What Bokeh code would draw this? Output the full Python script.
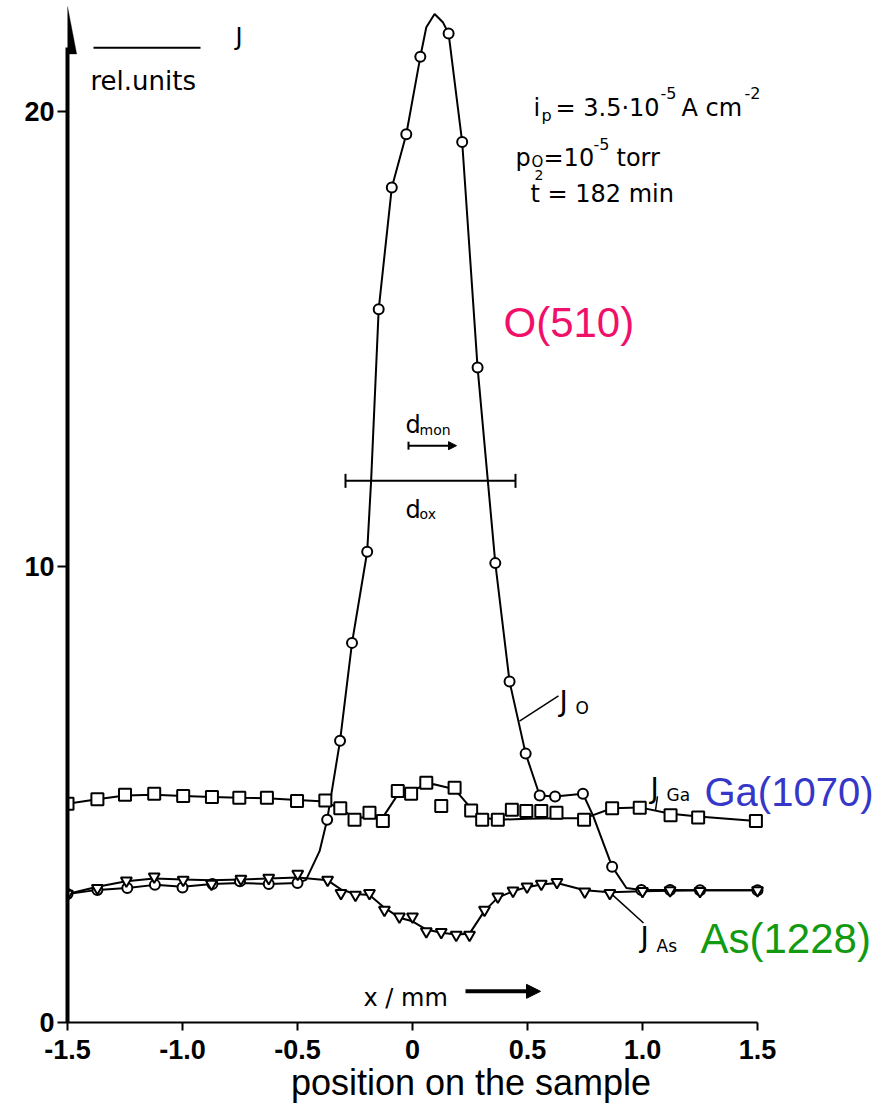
from bokeh.plotting import figure
from bokeh.models import (Range1d, FixedTicker, Label, Arrow, NormalHead, TeeHead,
                          PolyAnnotation)
from bokeh.embed import file_html
from bokeh.resources import INLINE

# ---------------- data ----------------
# O(510) signal: measured points (circles) and the drawn curve
o_x = [-1.5, -1.37, -1.24, -1.12, -1.0, -0.87, -0.75, -0.625, -0.5, -0.371, -0.315,
       -0.263, -0.197, -0.147, -0.09, -0.027, 0.034, 0.157, 0.216, 0.283, 0.36, 0.422,
       0.492, 0.553, 0.62, 0.741, 0.868, 0.995, 1.12, 1.25, 1.5]
o_y = [2.82, 2.91, 2.95, 3.02, 2.96, 3.04, 3.1, 3.04, 3.06, 4.45, 6.18,
       8.33, 10.33, 15.65, 18.32, 19.49, 21.19, 21.7, 19.32, 14.37, 10.08, 7.48,
       5.9, 4.98, 4.96, 5.02, 3.42, 2.91, 2.91, 2.9, 2.9]
o_line_x = [-1.5, -1.37, -1.24, -1.12, -1.0, -0.87, -0.75, -0.625, -0.5, -0.463, -0.404,
            -0.371, -0.315, -0.263, -0.197, -0.18, -0.147, -0.09, -0.027, 0.034, 0.06,
            0.096, 0.132, 0.157, 0.216, 0.283, 0.36, 0.422, 0.492, 0.553, 0.62, 0.741,
            0.785, 0.868, 0.93, 0.995, 1.12, 1.25, 1.5]
o_line_y = [2.82, 2.91, 2.95, 3.02, 2.98, 3.04, 3.06, 3.04, 3.06, 3.13, 3.76,
            4.45, 6.18, 8.33, 10.33, 11.88, 15.65, 18.32, 19.49, 21.19, 21.84,
            22.13, 21.95, 21.7, 19.32, 14.37, 10.08, 7.48, 5.9, 4.98, 4.96, 5.02,
            4.54, 3.42, 2.95, 2.91, 2.91, 2.9, 2.9]

# Ga(1070) signal: points (squares) and drawn curve
ga_x = [-1.5, -1.37, -1.25, -1.123, -0.997, -0.872, -0.753, -0.633, -0.502, -0.379, -0.314,
        -0.252, -0.187, -0.129, -0.064, -0.006, 0.06, 0.125, 0.183, 0.255, 0.303, 0.371,
        0.432, 0.495, 0.56, 0.626, 0.746, 0.868, 0.988, 1.122, 1.242, 1.493]
ga_y = [4.8, 4.9, 5.0, 5.02, 4.97, 4.95, 4.93, 4.93, 4.86, 4.87, 4.70,
        4.45, 4.6, 4.42, 5.08, 5.02, 5.26, 4.75, 5.15, 4.65, 4.45, 4.45,
        4.67, 4.64, 4.64, 4.6, 4.45, 4.7, 4.71, 4.55, 4.5, 4.42]
ga_line_x = [-1.5, -1.37, -1.25, -1.123, -0.997, -0.872, -0.753, -0.633, -0.502, -0.379,
             -0.314, -0.252, -0.187, -0.129, -0.064, -0.006, 0.06, 0.093, 0.183, 0.255,
             0.303, 0.371, 0.5, 0.626, 0.746, 0.868, 0.988, 1.122, 1.242, 1.493]
ga_line_y = [4.8, 4.9, 4.98, 5.0, 4.97, 4.95, 4.93, 4.92, 4.88, 4.85,
             4.68, 4.5, 4.5, 4.5, 5.0, 5.1, 5.2, 5.23, 5.12, 4.7,
             4.5, 4.45, 4.47, 4.48, 4.48, 4.7, 4.72, 4.58, 4.52, 4.42]

# As(1228) signal: points (triangles) and drawn curve
as_x = [-1.5, -1.37, -1.244, -1.123, -0.997, -0.874, -0.746, -0.625, -0.499, -0.369, -0.311,
        -0.248, -0.187, -0.122, -0.057, 0.0, 0.06, 0.125, 0.19, 0.248, 0.313, 0.371,
        0.437, 0.498, 0.56, 0.628, 0.749, 0.858, 1.0, 1.12, 1.25, 1.5]
as_y = [2.82, 2.95, 3.11, 3.2, 3.13, 3.04, 3.15, 3.17, 3.26, 3.13, 2.84,
        2.8, 2.84, 2.47, 2.32, 2.32, 2.0, 1.98, 1.92, 1.92, 2.47, 2.76,
        2.89, 2.98, 3.04, 3.08, 2.87, 2.84, 2.88, 2.9, 2.88, 2.9]
as_line_x = [-1.5, -1.37, -1.244, -1.123, -0.997, -0.874, -0.746, -0.625, -0.499, -0.369,
             -0.311, -0.248, -0.187, -0.122, -0.057, 0.0, 0.06, 0.125, 0.19, 0.248, 0.313,
             0.371, 0.437, 0.498, 0.56, 0.628, 0.749, 0.858, 1.0, 1.25, 1.5]
as_line_y = [2.82, 2.98, 3.1, 3.16, 3.14, 3.12, 3.14, 3.16, 3.18, 3.12,
             2.92, 2.82, 2.8, 2.52, 2.3, 2.22, 2.04, 1.97, 1.93, 1.95, 2.45,
             2.74, 2.88, 2.97, 3.03, 3.06, 2.9, 2.86, 2.88, 2.9, 2.9]

x_ticks = [-1.5, -1.0, -0.5, 0, 0.5, 1.0, 1.5]
x_tick_labels = ["-1.5", "-1.0", "-0.5", "0", "0.5", "1.0", "1.5"]
y_ticks = [0, 10, 20]
y_tick_labels = ["0", "10", "20"]

# ---------------- figure ----------------
LEFT = 67
W = 874
X_END = -1.5 + (W - LEFT) / 230.0
Y_END = 1017 / 45.35

p = figure(width=W, height=1105, x_range=Range1d(-1.5, X_END), y_range=Range1d(0, Y_END),
           output_backend="svg", toolbar_location=None, min_border=0, min_border_left=LEFT)
p.outline_line_color = None
p.grid.visible = False
p.background_fill_color = "white"
p.border_fill_color = "white"


def PX(px):
    return (px - 412) / 230.0


def PY(py):
    return (1017 - py) / 45.35


# axes
xa = p.xaxis[0]
xa.ticker = FixedTicker(ticks=x_ticks)
xa.major_label_overrides = {float(t): s for t, s in zip(x_ticks, x_tick_labels)}
xa.bounds = (-1.5, 1.5)
xa.axis_line_width = 2
xa.major_tick_line_width = 2
xa.major_tick_out = 8
xa.major_tick_in = 0
xa.minor_tick_line_color = None
xa.major_label_text_font = "Liberation Sans"
xa.major_label_text_font_style = "bold"
xa.major_label_text_font_size = "27px"
xa.major_label_text_color = "black"
xa.major_label_standoff = 9
xa.axis_label = "position on the sample"
xa.axis_label_text_font = "Liberation Sans"
xa.axis_label_text_font_style = "normal"
xa.axis_label_text_font_size = "36px"
xa.axis_label_text_color = "black"
xa.axis_label_standoff = 0

ya = p.yaxis[0]
ya.ticker = FixedTicker(ticks=y_ticks)
ya.major_label_overrides = {float(t): s for t, s in zip(y_ticks, y_tick_labels)}
ya.bounds = (0, 21.4)
ya.axis_line_width = 4
ya.major_tick_line_width = 2
ya.major_tick_out = 10
ya.major_tick_in = 0
ya.minor_tick_line_color = None
ya.major_label_text_font = "Liberation Sans"
ya.major_label_text_font_style = "bold"
ya.major_label_text_font_size = "27px"
ya.major_label_text_color = "black"
ya.major_label_standoff = 3

# arrowhead on the y axis
p.add_layout(PolyAnnotation(xs=[-1.5, -1.5 - 0.04, -1.5 + 0.04], ys=[22.3, 21.25, 21.25],
                            fill_color="black", fill_alpha=1, line_color="black"))

# curves
p.line(o_line_x, o_line_y, line_color="black", line_width=2)
p.line(ga_line_x, ga_line_y, line_color="black", line_width=2)
p.line(as_line_x, as_line_y, line_color="black", line_width=2)

p.scatter(o_x, o_y, marker="circle", size=10, fill_color="white", line_color="black", line_width=2)
p.scatter(ga_x, ga_y, marker="square", size=12, fill_color="white", line_color="black", line_width=2)
p.scatter(as_x, as_y, marker="inverted_triangle", size=11, fill_color="white", line_color="black",
          line_width=2)


# ---------------- texts ----------------
def lab(px, py, text, size, font="DejaVu Sans", color="black", align="left", style="normal"):
    p.add_layout(Label(x=PX(px), y=PY(py), text=text, text_font=font,
                       text_font_size=f"{size}px", text_color=color, text_align=align,
                       text_baseline="alphabetic", text_font_style=style))


def seg(px0, py0, px1, py1, width=2, start=None, end=None):
    p.add_layout(Arrow(x_start=PX(px0), y_start=PY(py0), x_end=PX(px1), y_end=PY(py1),
                       line_width=width, line_color="black", start=start, end=end))


# coloured element labels
lab(503, 320, "O(510)", 42, "Liberation Sans", "#F0106A")
lab(704, 788, "Ga(1070)", 40, "Liberation Sans", "#3636C8")
lab(700, 933, "As(1228)", 42, "Liberation Sans", "#129A12")

# y axis quantity
lab(235, 36, "J", 24)
seg(93, 47, 200, 47, 2)
lab(90, 80, "rel.units", 26)

# experimental conditions
lab(533, 107, "i", 24)
lab(541, 114, "p", 16)
lab(555, 107, "= 3.5·10", 24)
lab(660, 92, "-5", 16)
lab(681, 107, "A cm", 24)
lab(744, 92, "-2", 16)

lab(515, 157, "p", 24)
lab(531, 161, "O", 15)
lab(534, 174, "2", 14)
lab(543, 157, "=10", 24)
lab(593, 143, "-5", 16)
lab(616, 157, "torr", 24)

lab(530, 193, "t  = 182 min", 24)

# d_mon and d_ox
lab(405, 422, "d", 24)
lab(419, 427, "mon", 14)
seg(408, 443, 456, 443, 2, start=TeeHead(size=8, line_width=2),
    end=NormalHead(size=8, fill_color="black", line_color="black"))
seg(345, 478, 515, 478, 2, start=TeeHead(size=14, line_width=2), end=TeeHead(size=14, line_width=2))
lab(405, 507, "d", 24)
lab(419, 511, "ox", 14)

# curve labels
seg(519, 717, 558, 692, 1.5)
lab(559, 698, "J", 28)
lab(575, 704, "O", 17)

seg(655, 806, 657, 792, 1.5)
lab(650, 784, "J", 28)
lab(666, 791, "Ga", 17)

seg(612, 890, 643, 918, 1.5)
lab(640, 932, "J", 28)
lab(656, 941, "As", 17)

# x / mm arrow
lab(363, 993, "x / mm", 24)
seg(465, 986, 540, 986, 4, end=NormalHead(size=14, fill_color="black", line_color="black"))

open("out.html", "w").write(file_html(p, INLINE))
